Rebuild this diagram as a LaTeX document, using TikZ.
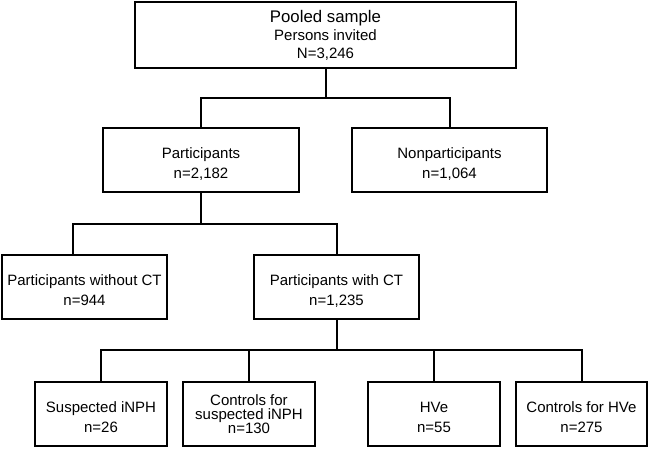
\documentclass[tikz,border=0pt]{standalone}
\usepackage{fontspec}
\setmainfont{Liberation Sans}
\usepackage{tikz}
\usetikzlibrary{calc}

\newcommand\haut{\rule{0pt}{18pt}}
\tikzset{
  boite/.style={draw,line width=1.5pt,rectangle,inner sep=0pt,align=center,
    minimum height=64pt,font=\fontsize{15}{20}\selectfont},
  lien/.style={line width=2pt},
}

\begin{document}
\begin{tikzpicture}[x=1pt,y=-1pt]
%					Cadre :
					\useasboundingbox (0,0) rectangle (649,448);
%					Tracé des boîtes :
					\node[boite,minimum width=381pt,minimum height=66pt,font=\fontsize{15}{18}\selectfont] (pool) at (325.5,35)
						{{\fontsize{16.8}{18}\selectfont Pooled sample}\\Persons invited\\N=3,246};
					\node[boite,minimum width=196pt] (part) at (201,160) {\haut Participants\\n=2,182};
					\node[boite,minimum width=195pt] (nonpart) at (449.5,160) {\haut Nonparticipants\\n=1,064};
					\node[boite,minimum width=165pt] (sansct) at (84.5,287) {\haut Participants without CT\\n=944};
					\node[boite,minimum width=165pt] (avecct) at (336.5,287) {\haut Participants with CT\\n=1,235};
					\node[boite,minimum width=132pt] (inph) at (101,414) {\haut Suspected iNPH\\n=26};
					\node[boite,minimum width=132pt,font=\fontsize{15}{14}\selectfont] (ctlinph) at (249,414)
						{Controls for\\suspected iNPH\\n=130};
					\node[boite,minimum width=132pt] (hve) at (434,414) {\haut HVe\\n=55};
					\node[boite,minimum width=131pt] (ctlhve) at (581.5,414) {\haut Controls for HVe\\n=275};
%					Tracé des liens :
					\coordinate (f1) at ($(pool.south)+(0,29)$);
					\draw[lien] (pool.south) -- (f1);
					\draw[lien] (part.north) |- (f1) -| (nonpart.north);
					\coordinate (f2) at ($(part.south)+(0,31)$);
					\draw[lien] (part.south) -- (f2);
					\draw[lien] ($(sansct.north)+(-12,0)$) |- (f2) -| (avecct.north);
					\coordinate (f3) at ($(avecct.south)+(0,30)$);
					\draw[lien] (avecct.south) -- (f3);
					\draw[lien] (inph.north) |- (f3) -| (ctlhve.north);
					\draw[lien] (ctlinph.north) -- (ctlinph.north |- f3);
					\draw[lien] (hve.north) -- (hve.north |- f3);
				\end{tikzpicture}
\end{document}
